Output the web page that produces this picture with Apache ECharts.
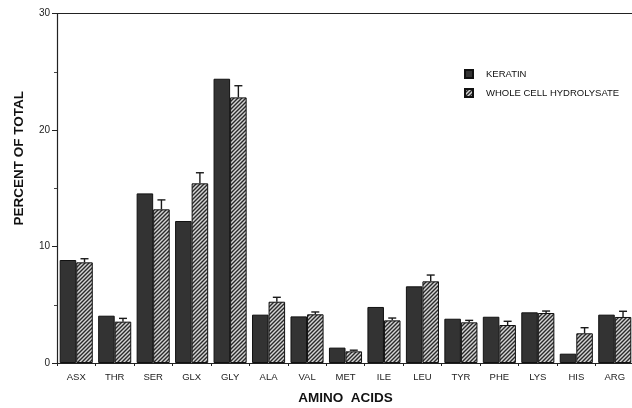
<!DOCTYPE html>
<html>
<head>
<meta charset="utf-8">
<script src="https://cdn.jsdelivr.net/npm/echarts@6/dist/echarts.min.js"></script>
<style>
html,body{margin:0;padding:0;background:#fff;}
#chart{width:632px;height:408px;}
</style>
</head>
<body>
<div id="chart"></div>
<script>
const categories = ['ASX','THR','SER','GLX','GLY','ALA','VAL','MET','ILE','LEU','TYR','PHE','LYS','HIS','ARG'];
const keratin = [8.84, 4.06, 14.56, 12.19, 24.4, 4.15, 4.0, 1.32, 4.81, 6.58, 3.8, 3.97, 4.35, 0.8, 4.15];
const wholeCell = [8.64, 3.55, 13.19, 15.42, 22.8, 5.26, 4.18, 1.0, 3.66, 7.01, 3.49, 3.26, 4.29, 2.55, 3.95];
const wholeCellErrTop = [8.95, 3.83, 14.0, 16.33, 23.8, 5.64, 4.38, 1.1, 3.86, 7.55, 3.66, 3.58, 4.46, 3.03, 4.44];
const yTicks = [0, 10, 20, 30];
const seriesNames = ['KERATIN', 'WHOLE CELL HYDROLYSATE'];

const GAP = 0.14;
const font = '"Liberation Sans Narrow", "Liberation Sans", Arial, sans-serif';
const boldFont = '"Liberation Sans", Arial, sans-serif';

function makeHatch() {
  const s = 4;
  const c = document.createElement('canvas');
  c.width = s; c.height = s;
  const g = c.getContext('2d');
  g.fillStyle = '#d4d4d4';
  g.fillRect(0, 0, s, s);
  g.strokeStyle = '#2a2a2a';
  g.lineWidth = 1.4;
  g.beginPath();
  g.moveTo(0, s); g.lineTo(s, 0);
  g.moveTo(-1, 1); g.lineTo(1, -1);
  g.moveTo(s - 1, s + 1); g.lineTo(s + 1, s - 1);
  g.stroke();
  return c;
}
const hatch = makeHatch();

const chart = echarts.init(document.getElementById('chart'), null, {renderer: 'canvas'});
const errData = categories.map((c, i) => [i, wholeCell[i], wholeCellErrTop[i]]);

chart.setOption({
  animation: false,
  backgroundColor: '#fff',
  grid: {left: 57, right: -2, top: 13.5, bottom: 45, containLabel: false, outerBoundsMode: 'none'},
  legend: {
    orient: 'vertical', left: 459, top: 64,
    itemWidth: 8, itemHeight: 8, itemGap: 9,
    icon: 'rect',
    textStyle: {fontFamily: font, fontSize: 9.5, color: '#111', padding: [0, 0, 0, 8]},
    data: seriesNames
  },
  xAxis: [{
    type: 'category', data: categories, position: 'bottom',
    axisLine: {lineStyle: {color: '#222', width: 1.2}},
    axisTick: {show: true, length: 3, inside: false, lineStyle: {color: '#222'}},
    axisLabel: {fontFamily: font, fontSize: 9.5, color: '#222', margin: 9},
    name: 'AMINO  ACIDS', nameLocation: 'middle', nameGap: 28,
    nameTextStyle: {fontFamily: boldFont, fontSize: 13.5, fontWeight: 'bold', color: '#111'}
  }, {
    type: 'category', data: categories, position: 'top',
    axisLine: {lineStyle: {color: '#222', width: 1.2}},
    axisTick: {show: false}, axisLabel: {show: false}
  }],
  yAxis: {
    type: 'value', min: 0, max: 30, interval: 10,
    axisLine: {show: true, lineStyle: {color: '#222', width: 1.2}},
    axisTick: {show: true, length: 5, lineStyle: {color: '#222'}},
    minorTick: {show: true, splitNumber: 2, length: 3, lineStyle: {color: '#444'}},
    splitLine: {show: false},
    axisLabel: {fontFamily: font, fontSize: 10, color: '#222', margin: 7,
      customValues: yTicks},
    name: 'PERCENT OF TOTAL', nameLocation: 'middle', nameGap: 31, nameRotate: 90,
    nameTextStyle: {fontFamily: boldFont, fontSize: 13.5, fontWeight: 'bold', color: '#111',
      padding: [0, 0, 0, 60]}
  },
  series: [{
    name: seriesNames[0], type: 'bar', data: keratin,
    barGap: '0%', barCategoryGap: (GAP * 100) + '%',
    itemStyle: {color: '#333333', borderColor: '#111', borderWidth: 1}
  }, {
    name: seriesNames[1], type: 'bar', data: wholeCell,
    itemStyle: {color: {image: hatch, repeat: 'repeat'}, borderColor: '#111', borderWidth: 1}
  }, {
    type: 'custom', data: errData, z: 5,
    encode: {x: 0, y: 2},
    renderItem: function (params, api) {
      const base = api.coord([api.value(0), api.value(1)]);
      const top = api.coord([api.value(0), api.value(2)]);
      const band = api.size([1, 0])[0];
      const barW = band * (1 - GAP) / 2;
      const cx = base[0] + barW / 2;
      const style = {stroke: '#1a1a1a', lineWidth: 1.4};
      return {
        type: 'group',
        children: [
          {type: 'line', shape: {x1: cx, y1: base[1], x2: cx, y2: top[1]}, style: style},
          {type: 'line', shape: {x1: cx - 4, y1: top[1], x2: cx + 4, y2: top[1]}, style: style}
        ]
      };
    }
  }]
});
</script>
</body>
</html>
